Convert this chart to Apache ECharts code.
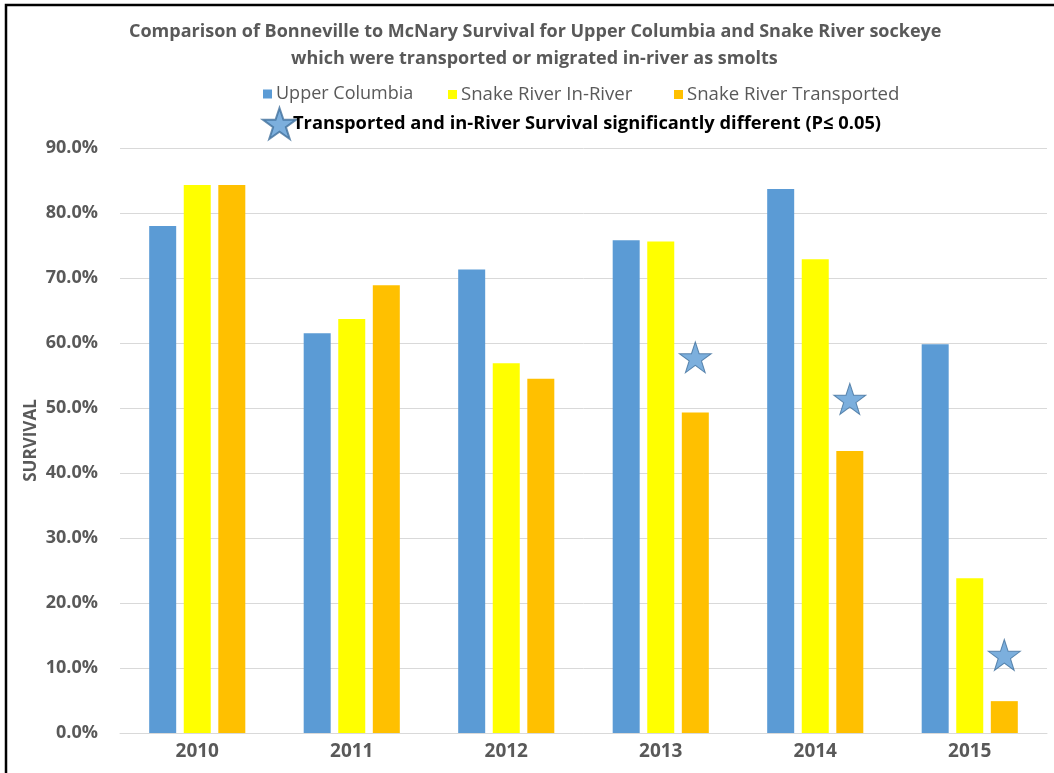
<!DOCTYPE html>
<html>
<head>
<meta charset="utf-8">
<script src="https://cdn.jsdelivr.net/npm/echarts@6/dist/echarts.min.js"></script>
<style>
html,body{margin:0;padding:0;background:#fff;}
#chart{width:1054px;height:773px;}
</style>
</head>
<body>
<div id="chart"></div>
<script>
const years = ['2010', '2011', '2012', '2013', '2014', '2015'];
const upperColumbia = [78.0, 61.5, 71.3, 75.8, 83.7, 59.8];
const snakeInRiver = [84.3, 63.7, 56.9, 75.6, 72.9, 23.8];
const snakeTransported = [84.3, 68.9, 54.5, 49.3, 43.4, 4.9];
const significantYears = ['2013', '2014', '2015'];
const starValues = [57.8, 51.4, 12.0];
const yTicks = [0, 10, 20, 30, 40, 50, 60, 70, 80, 90];

const titleLines = [
  'Comparison of Bonneville to McNary Survival for Upper Columbia and Snake River sockeye',
  'which were transported or migrated in-river as smolts'
];
const seriesNames = ['Upper Columbia', 'Snake River In-River', 'Snake River Transported'];
const starName = 'Transported and in-River Survival significantly different (P\u2264 0.05)';
const FONT = "'Open Sans', 'Noto Sans', sans-serif";
const GRAY = '#595959';
const STAR = 'path://M50,0 L61.8,35.1 L98.9,35.1 L68.9,56.8 L80.3,91.9 L50,70.2 L19.7,91.9 L31.1,56.8 L1.1,35.1 L38.2,35.1 Z';
const BAR_W = 27;
const BAR_GAP = 0.28;
const legendLefts = [258, 443, 669];
const titleLefts = [124, 286];
const titleTops = [18, 45];

const chart = echarts.init(document.getElementById('chart'), null, {renderer: 'canvas'});
const seriesLegends = seriesNames.map((n, i) => ({
  data: [n],
  left: legendLefts[i],
  top: 80,
  icon: 'rect',
  itemWidth: 9,
  itemHeight: 9,
  textStyle: {fontFamily: FONT, fontSize: i === 0 ? 18 : 18.6, color: GRAY, padding: [0, 0, 0, -1]}
}));
const option = {
  backgroundColor: '#fff',
  animation: false,
  textStyle: {fontFamily: FONT},
  title: titleLines.map((t, i) => ({
    text: t,
    left: titleLefts[i],
    top: titleTops[i],
    textStyle: {fontFamily: FONT, fontSize: 18, fontWeight: 'bold', color: GRAY}
  })),
  legend: seriesLegends.concat([{
    data: [starName],
    left: 257,
    top: 102,
    icon: STAR,
    itemWidth: 33,
    itemHeight: 32,
    textStyle: {fontFamily: FONT, fontSize: 18.3, fontWeight: 'bold', color: '#000', padding: [0, 0, 0, -8]}
  }]),
  grid: {left: 120, right: 7, top: 148, bottom: 40, containLabel: false},
  xAxis: {
    type: 'category',
    data: years,
    axisLine: {show: true, lineStyle: {color: '#d9d9d9', width: 1}},
    axisTick: {show: false},
    axisLabel: {fontFamily: FONT, fontSize: 19, fontWeight: 'bold', color: GRAY, margin: 9}
  },
  yAxis: {
    type: 'value',
    min: 0,
    max: 90,
    interval: 10,
    name: 'SURVIVAL',
    nameLocation: 'middle',
    nameRotate: 90,
    nameGap: 80,
    nameMoveOverlap: false,
    nameTextStyle: {fontFamily: FONT, fontSize: 17, fontWeight: 'bold', color: GRAY},
    axisLine: {show: false},
    axisTick: {show: false},
    splitLine: {lineStyle: {color: '#d9d9d9', width: 1}},
    axisLabel: {
      fontFamily: FONT, fontSize: 18, fontWeight: 'bold', color: GRAY, margin: 22,
      formatter: v => yTicks.includes(v) ? v.toFixed(1) + '%' : ''
    }
  },
  series: [{
    name: seriesNames[0], type: 'bar', data: upperColumbia,
    barWidth: BAR_W, barGap: (BAR_GAP * 100) + '%',
    itemStyle: {color: '#5b9bd5'}
  }, {
    name: seriesNames[1], type: 'bar', data: snakeInRiver,
    barWidth: BAR_W, barGap: (BAR_GAP * 100) + '%',
    itemStyle: {color: '#ffff00'}
  }, {
    name: seriesNames[2], type: 'bar', data: snakeTransported,
    barWidth: BAR_W, barGap: (BAR_GAP * 100) + '%',
    itemStyle: {color: '#ffc000'}
  }, {
    name: starName, type: 'scatter',
    data: significantYears.map((y, i) => [y, starValues[i]]),
    symbol: STAR,
    symbolSize: [32, 31],
    symbolOffset: [BAR_W * (1 + BAR_GAP), 0],
    itemStyle: {color: '#5b9bd5', borderColor: '#41719c', borderWidth: 1}
  }],
  graphic: [{
    type: 'rect',
    shape: {x: 6, y: 5, width: 1200, height: 1000},
    style: {fill: 'none', stroke: '#000', lineWidth: 2.5},
    silent: true
  }]
};
chart.setOption(option);
</script>
</body>
</html>
